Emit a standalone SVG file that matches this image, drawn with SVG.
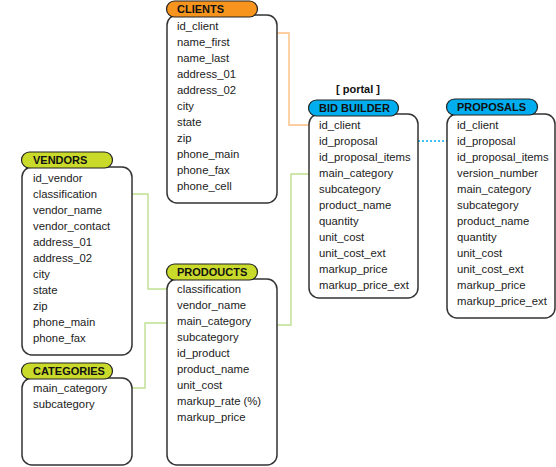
<svg xmlns="http://www.w3.org/2000/svg" width="556" height="467" viewBox="0 0 556 467">
<style>
.body{fill:#fff;stroke:#333;stroke-width:1.5}
.pill{stroke:#222;stroke-width:1.2}
.orange{fill:#F7941E}
.green{fill:#C9DA2A}
.blue{fill:#00AEEF}
.hdr{font-family:"Liberation Sans",Arial,sans-serif;font-weight:bold;font-size:11px;fill:#111}
.row{font-family:"Liberation Sans",Arial,sans-serif;font-size:11.3px;fill:#222}
.conn{fill:none;stroke-width:1.4}
</style>
<rect width="556" height="467" fill="#fff"/>
<g id="connectors">
<path class="conn" stroke="#FBBF80" d="M277,33 H289 V125 H309"/>
<path class="conn" stroke="#00AEEF" stroke-width="2" stroke-dasharray="2,2" d="M418,141 H447"/>
<path class="conn" stroke="#BEE08F" d="M132,194 H148 V289 H167"/>
<path class="conn" stroke="#BEE08F" d="M132,388 H145 V323 H167"/>
<path class="conn" stroke="#BEE08F" d="M277,325 H291 V174 H309"/>
</g>
<g id="clients">
<rect class="body" x="167" y="15" width="110" height="188" rx="10"/>
<rect class="pill orange" x="166.5" y="1" width="91" height="16" rx="8"/>
<text class="hdr" x="177" y="13">CLIENTS</text>
<text class="row" x="177" y="30">id_client</text>
<text class="row" x="177" y="46">name_first</text>
<text class="row" x="177" y="62">name_last</text>
<text class="row" x="177" y="78">address_01</text>
<text class="row" x="177" y="94">address_02</text>
<text class="row" x="177" y="110">city</text>
<text class="row" x="177" y="126">state</text>
<text class="row" x="177" y="142">zip</text>
<text class="row" x="177" y="158">phone_main</text>
<text class="row" x="177" y="174">phone_fax</text>
<text class="row" x="177" y="190">phone_cell</text>
</g>
<g id="bid_builder">
<text class="hdr" x="358" y="93" text-anchor="middle">[ portal ]</text>
<rect class="body" x="309" y="114" width="109" height="184" rx="10"/>
<rect class="pill blue" x="308.5" y="100" width="90" height="16" rx="8"/>
<text class="hdr" x="319" y="112">BID BUILDER</text>
<text class="row" x="319" y="129">id_client</text>
<text class="row" x="319" y="145">id_proposal</text>
<text class="row" x="319" y="161">id_proposal_items</text>
<text class="row" x="319" y="177">main_category</text>
<text class="row" x="319" y="193">subcategory</text>
<text class="row" x="319" y="209">product_name</text>
<text class="row" x="319" y="225">quantity</text>
<text class="row" x="319" y="241">unit_cost</text>
<text class="row" x="319" y="257">unit_cost_ext</text>
<text class="row" x="319" y="273">markup_price</text>
<text class="row" x="319" y="289">markup_price_ext</text>
</g>
<g id="proposals">
<rect class="body" x="447" y="114" width="108" height="204" rx="10"/>
<rect class="pill blue" x="446.5" y="99" width="91" height="16" rx="8"/>
<text class="hdr" x="457" y="111">PROPOSALS</text>
<text class="row" x="457" y="129">id_client</text>
<text class="row" x="457" y="145">id_proposal</text>
<text class="row" x="457" y="161">id_proposal_items</text>
<text class="row" x="457" y="177">version_number</text>
<text class="row" x="457" y="193">main_category</text>
<text class="row" x="457" y="209">subcategory</text>
<text class="row" x="457" y="225">product_name</text>
<text class="row" x="457" y="241">quantity</text>
<text class="row" x="457" y="257">unit_cost</text>
<text class="row" x="457" y="273">unit_cost_ext</text>
<text class="row" x="457" y="289">markup_price</text>
<text class="row" x="457" y="305">markup_price_ext</text>
</g>
<g id="vendors">
<rect class="body" x="22" y="167" width="110" height="188" rx="10"/>
<rect class="pill green" x="21.5" y="152" width="91" height="16" rx="8"/>
<text class="hdr" x="33" y="164">VENDORS</text>
<text class="row" x="33" y="182">id_vendor</text>
<text class="row" x="33" y="198">classification</text>
<text class="row" x="33" y="214">vendor_name</text>
<text class="row" x="33" y="230">vendor_contact</text>
<text class="row" x="33" y="246">address_01</text>
<text class="row" x="33" y="262">address_02</text>
<text class="row" x="33" y="278">city</text>
<text class="row" x="33" y="294">state</text>
<text class="row" x="33" y="310">zip</text>
<text class="row" x="33" y="326">phone_main</text>
<text class="row" x="33" y="342">phone_fax</text>
</g>
<g id="categories">
<rect class="body" x="22" y="378" width="110" height="87" rx="10"/>
<rect class="pill green" x="21.5" y="363" width="91" height="16" rx="8"/>
<text class="hdr" x="33" y="375">CATEGORIES</text>
<text class="row" x="33" y="392">main_category</text>
<text class="row" x="33" y="408">subcategory</text>
</g>
<g id="prodoucts">
<rect class="body" x="167" y="279" width="110" height="186" rx="10"/>
<rect class="pill green" x="166.5" y="264" width="91" height="16" rx="8"/>
<text class="hdr" x="177" y="276">PRODOUCTS</text>
<text class="row" x="177" y="293">classification</text>
<text class="row" x="177" y="309">vendor_name</text>
<text class="row" x="177" y="325">main_category</text>
<text class="row" x="177" y="341">subcategory</text>
<text class="row" x="177" y="357">id_product</text>
<text class="row" x="177" y="373">product_name</text>
<text class="row" x="177" y="389">unit_cost</text>
<text class="row" x="177" y="405">markup_rate (%)</text>
<text class="row" x="177" y="421">markup_price</text>
</g>
</svg>
